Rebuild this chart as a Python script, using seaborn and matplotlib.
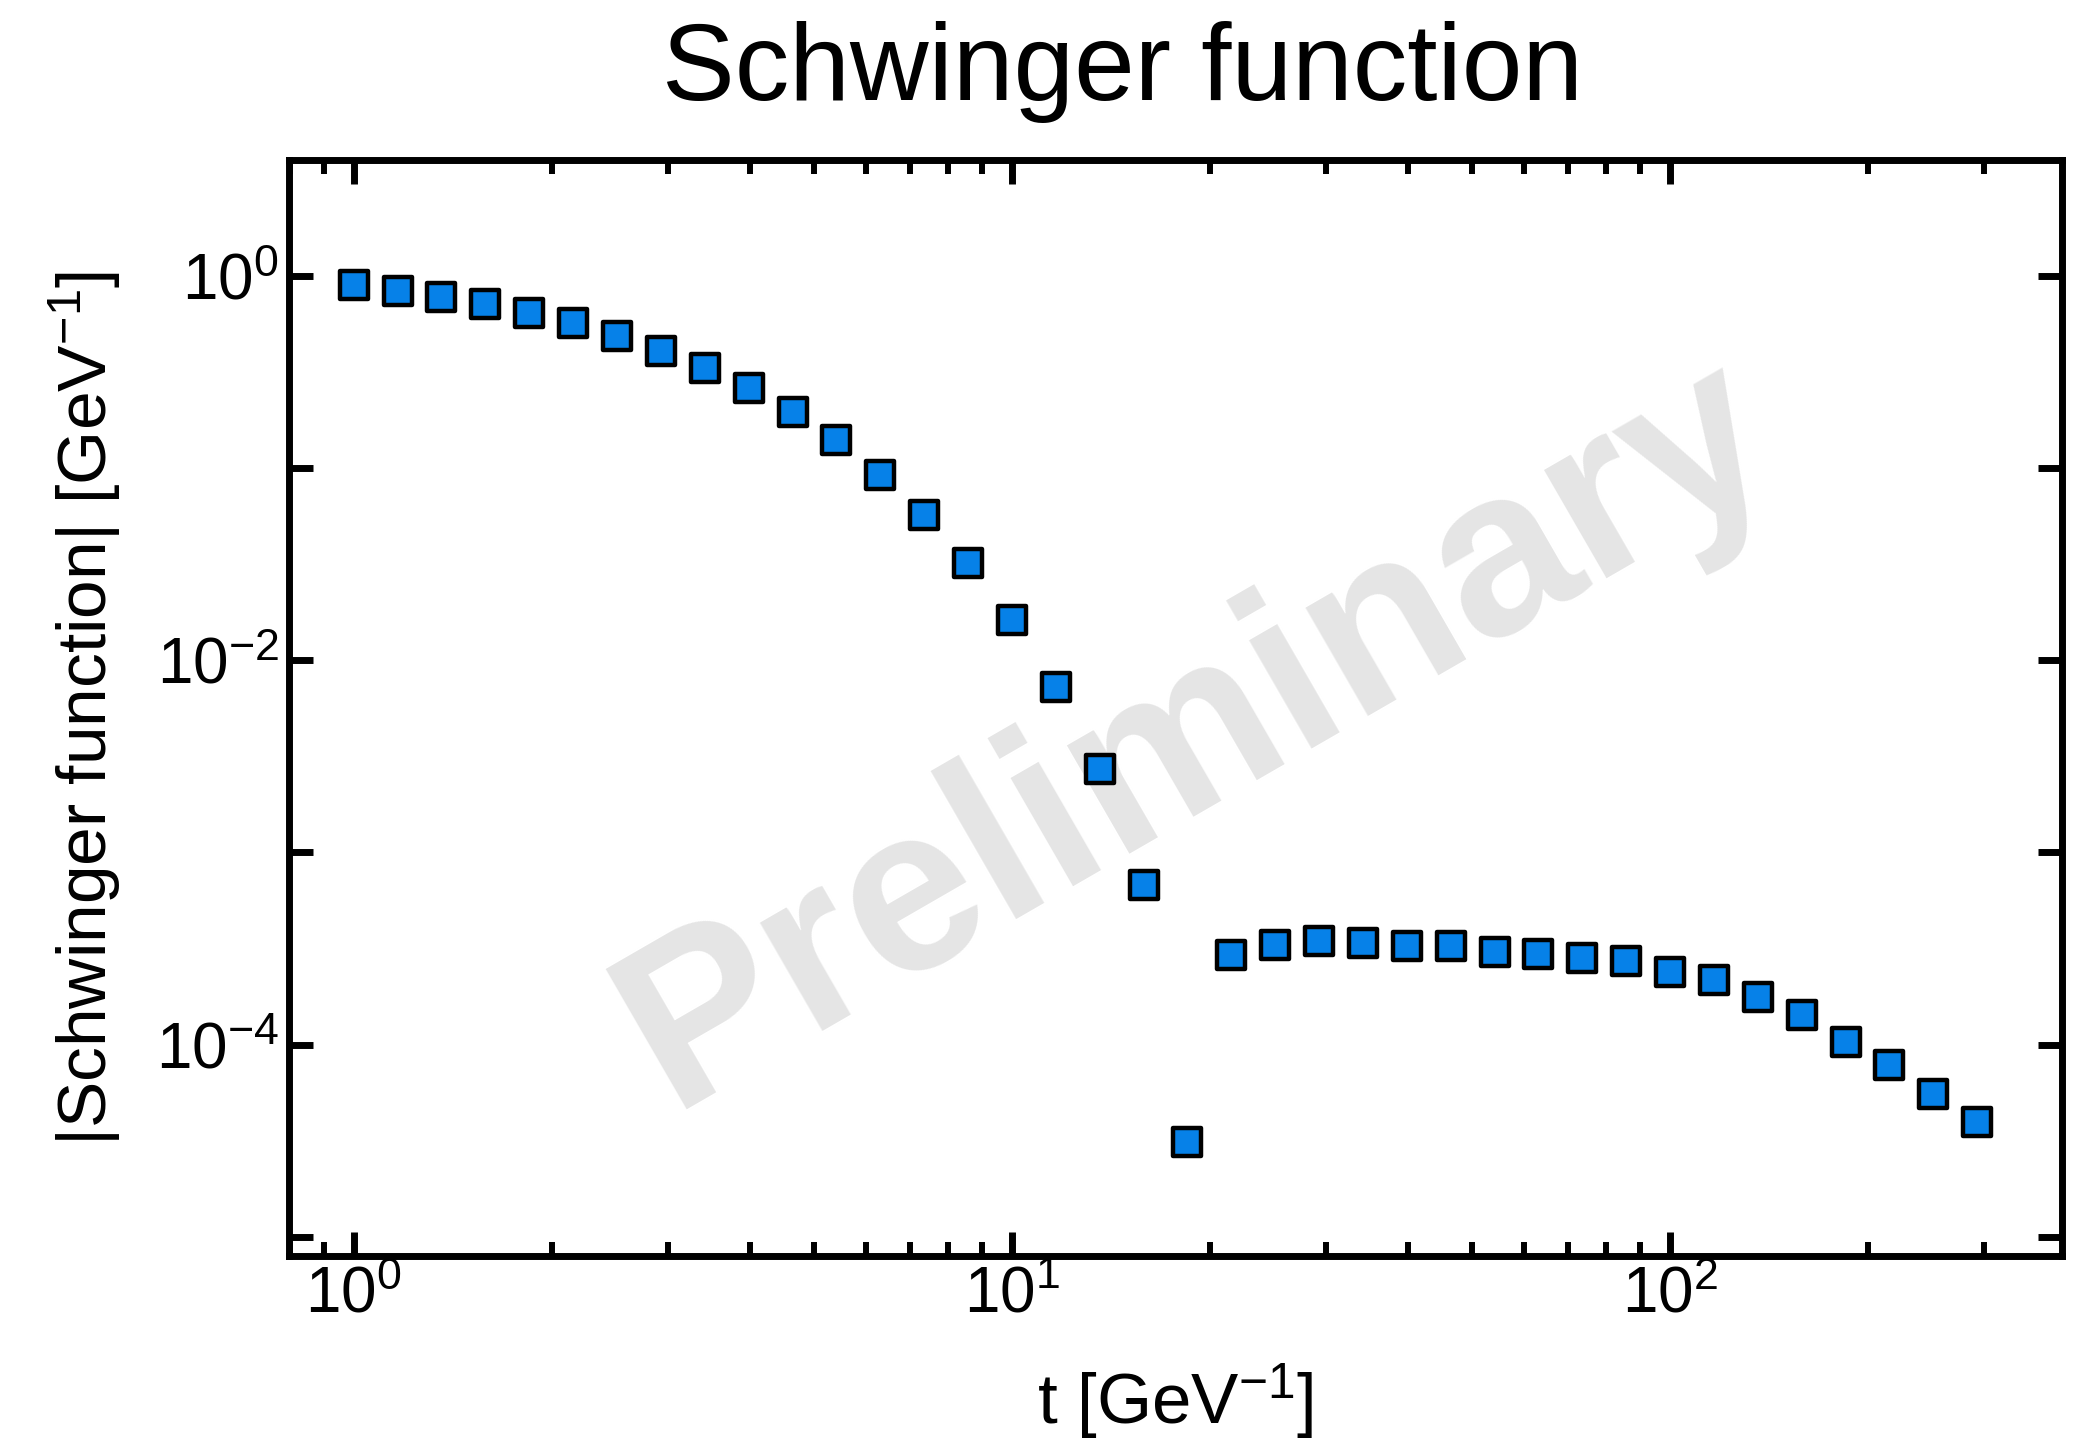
import numpy as np
import pandas as pd
import matplotlib
matplotlib.use("Agg")
import matplotlib.pyplot as plt
import matplotlib.ticker as mticker
import seaborn as sns

# Data
t_values = [1.0, 1.166, 1.359, 1.585, 1.848, 2.154, 2.512, 2.929, 3.415, 3.981,
            4.642, 5.412, 6.310, 7.356, 8.577, 10.0, 11.66, 13.59, 15.85, 18.48,
            21.54, 25.12, 29.29, 34.15, 39.81, 46.42, 54.12, 63.10, 73.56, 85.77,
            100.0, 116.6, 135.9, 158.5, 184.8, 215.4, 251.2, 292.9]
schwinger_abs = [0.893, 0.834, 0.773, 0.708, 0.636, 0.564, 0.486, 0.406, 0.330, 0.260,
                 0.194, 0.139, 0.0916, 0.0568, 0.032, 0.0161, 0.00728, 0.00271, 0.000677, 3.13e-5,
                 2.91e-4, 3.30e-4, 3.47e-4, 3.36e-4, 3.25e-4, 3.25e-4, 3.05e-4, 2.96e-4, 2.82e-4, 2.73e-4,
                 2.40e-4, 2.18e-4, 1.77e-4, 1.42e-4, 1.03e-4, 7.87e-5, 5.54e-5, 3.96e-5]

title_text = "Schwinger function"
x_label = "t [GeV$^{-1}$]"
y_label = "|Schwinger function| [GeV$^{-1}$]"
watermark = "Preliminary"

df = pd.DataFrame({"t": t_values, "S": schwinger_abs})

sns.set_theme(style="ticks")
plt.rcParams["font.family"] = ["Liberation Sans", "DejaVu Sans"]
plt.rcParams["mathtext.fontset"] = "custom"
plt.rcParams["mathtext.rm"] = "Liberation Sans"
plt.rcParams["mathtext.it"] = "Liberation Sans:italic"
plt.rcParams["mathtext.bf"] = "Liberation Sans:bold"

fig = plt.figure(figsize=(20.86, 14.41), dpi=100)
ax = fig.add_axes([0.1385, 0.1284, 0.9885 - 0.1385, 0.889 - 0.1284])

ax.text(0.512, 0.475, watermark, transform=ax.transAxes, rotation=30,
        rotation_mode="anchor", ha="center", va="center",
        fontsize=170, fontweight="bold", color="#e5e5e5", zorder=0)

sns.scatterplot(data=df, x="t", y="S", marker="s", s=392, color="#0681E8",
                edgecolor="black", linewidth=3.2, ax=ax, zorder=3, legend=False)

ax.set_xscale("log")
ax.set_yscale("log")
ax.set_xlim(0.797, 394)
ax.set_ylim(7.96e-6, 3.99)

ax.xaxis.set_major_locator(mticker.LogLocator(base=10, numticks=20))
ax.xaxis.set_minor_locator(mticker.LogLocator(base=10, subs=np.arange(2, 10), numticks=20))
ax.xaxis.set_minor_formatter(mticker.NullFormatter())
ax.yaxis.set_major_locator(mticker.LogLocator(base=10, numticks=30))
ax.yaxis.set_minor_locator(mticker.NullLocator())

def yfmt(v, pos):
    e = int(round(np.log10(v)))
    if e % 2 == 0:
        return r"$\mathdefault{10^{%d}}$" % e
    return ""
ax.yaxis.set_major_formatter(mticker.FuncFormatter(yfmt))

for side in ["left", "right", "top", "bottom"]:
    ax.spines[side].set_linewidth(5)
    ax.spines[side].set_color("black")

ax.tick_params(which="major", direction="in", length=17, width=5, top=True, right=True,
               labelsize=46, pad=7, color="black", labelcolor="black")
ax.tick_params(which="minor", direction="in", length=10, width=4.3, top=True, right=True,
               color="black")

ax.set_xlabel(x_label, fontsize=51, labelpad=26, color="black")
ax.set_ylabel(y_label, fontsize=50, labelpad=24, color="black")
fig.text(0.538, 1 - 100 / 1441, title_text, fontsize=78.5, color="black",
         ha="center", va="baseline")

fig.savefig("out.png", dpi=100)
